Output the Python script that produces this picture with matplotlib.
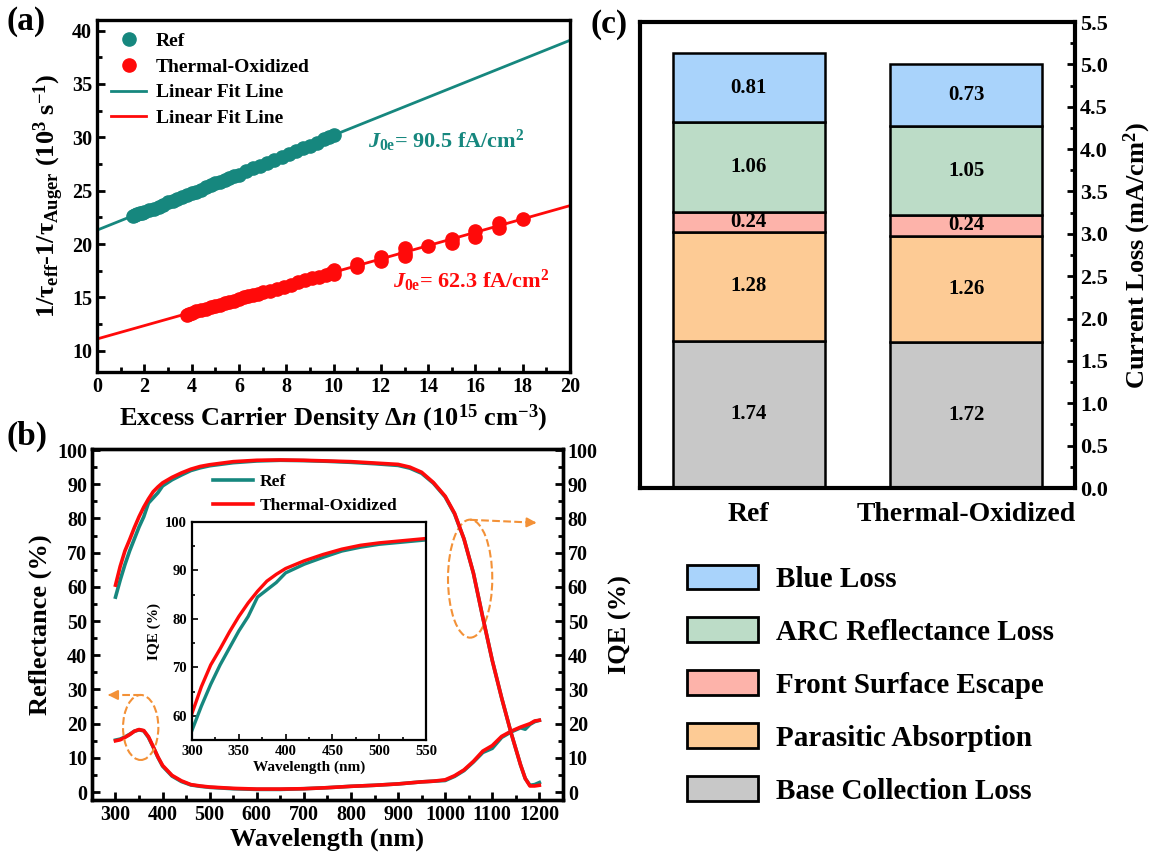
import matplotlib
matplotlib.use('Agg')
import matplotlib.pyplot as plt
from matplotlib.patches import Ellipse, Patch
from matplotlib.ticker import MultipleLocator
import numpy as np

plt.rcParams['font.family'] = ['Liberation Serif', 'DejaVu Serif']
plt.rcParams['font.weight'] = 'bold'
plt.rcParams['axes.labelweight'] = 'bold'
plt.rcParams['mathtext.fontset'] = 'custom'
plt.rcParams['mathtext.rm'] = 'Liberation Serif:bold'
plt.rcParams['mathtext.it'] = 'Liberation Serif:bold:italic'
plt.rcParams['mathtext.bf'] = 'Liberation Serif:bold'
plt.rcParams['mathtext.default'] = 'rm'

TEAL = '#16877E'
RED = '#FF0A0A'
ORANGE = '#F39137'

# ---------------- Panel (a) data ----------------
ref_x = [1.5, 1.6, 1.7, 1.8, 1.9, 2.0, 2.2, 2.4, 2.6, 2.8, 3.0, 3.2, 3.4, 3.6, 3.8,
         4.0, 4.2, 4.4, 4.6, 4.8, 5.0, 5.2, 5.4, 5.6, 5.8, 6.0, 6.3, 6.6, 6.9, 7.2,
         7.5, 7.8, 8.1, 8.4, 8.7, 9.0, 9.3, 9.6, 9.8, 10.0]
ref_y = [22.6, 22.7, 22.8, 22.9, 22.9, 23.0, 23.2, 23.3, 23.5, 23.7, 23.9, 24.0, 24.2,
         24.4, 24.6, 24.8, 24.9, 25.1, 25.3, 25.5, 25.7, 25.8, 26.0, 26.2, 26.4, 26.5,
         26.8, 27.1, 27.3, 27.6, 27.9, 28.2, 28.4, 28.7, 29.0, 29.2, 29.5, 29.8, 30.0, 30.2]
to_x = [3.8, 3.9, 4.0, 4.2, 4.4, 4.6, 4.8, 5.0, 5.2, 5.4, 5.6, 5.8, 6.0, 6.2, 6.4, 6.6,
        6.8, 7.0, 7.3, 7.6, 7.9, 8.2, 8.5, 8.8, 9.1, 9.4, 9.7, 9.9, 10.0, 10.0, 11.0,
        11.0, 12.0, 12.0, 13.0, 13.0, 13.0, 14.0, 15.0, 15.0, 16.0, 16.0, 17.0, 17.0, 18.0]
to_y = [13.3, 13.4, 13.5, 13.7, 13.8, 13.9, 14.1, 14.2, 14.3, 14.5, 14.6, 14.7, 14.8,
        15.0, 15.1, 15.2, 15.3, 15.5, 15.6, 15.8, 16.0, 16.2, 16.4, 16.6, 16.8, 16.9,
        17.1, 17.3, 17.2, 17.6, 17.8, 18.1, 18.4, 18.8, 18.9, 19.2, 19.6, 19.8, 20.1,
        20.5, 20.7, 21.2, 21.5, 22.0, 22.3]
fit_x = [0, 20]
ref_fit_y = [21.3, 39.1]
to_fit_y = [11.1, 23.6]

# ---------------- Panel (b) data ----------------
wl = [300, 310, 320, 330, 340, 350, 360, 370, 380, 390, 400, 420, 440, 460, 480, 500,
      550, 600, 650, 700, 750, 800, 850, 900, 925, 950, 975, 1000, 1020, 1040, 1060,
      1080, 1100, 1120, 1140, 1160, 1170, 1180, 1190, 1200]
iqe_ref = [57.0, 62.0, 66.5, 70.5, 74.0, 77.5, 80.5, 84.5, 86.0, 87.5, 89.5, 91.3, 92.7,
           94.0, 94.8, 95.4, 96.3, 96.8, 97.0, 96.9, 96.7, 96.4, 96.0, 95.5, 94.7, 93.2,
           90.3, 86.3, 81.3, 74.0, 64.0, 51.0, 38.5, 27.5, 17.3, 8.0, 4.0, 2.0, 2.2, 2.8]
iqe_to = [60.5, 66.0, 70.5, 73.8, 77.3, 80.5, 83.3, 85.7, 87.8, 89.2, 90.4, 92.0, 93.3,
          94.4, 95.2, 95.7, 96.6, 97.0, 97.1, 97.0, 96.8, 96.6, 96.2, 95.8, 95.0, 93.5,
          90.5, 86.5, 81.5, 74.0, 64.0, 51.0, 38.5, 27.5, 17.3, 8.0, 4.0, 1.8, 1.8, 2.0]
refl_ref = [15.2, 15.5, 16.1, 16.9, 17.8, 18.2, 17.9, 16.0, 13.2, 10.2, 7.6, 4.7, 3.1,
            2.1, 1.7, 1.4, 1.0, 0.8, 0.8, 1.0, 1.3, 1.7, 2.0, 2.4, 2.7, 3.0, 3.2, 3.4,
            4.6, 6.3, 8.8, 11.6, 12.8, 16.0, 17.6, 18.8, 18.4, 19.8, 20.6, 21.0]
refl_to = [15.0, 15.3, 16.0, 16.8, 17.8, 18.3, 18.0, 16.2, 13.3, 10.3, 7.8, 4.9, 3.3,
           2.2, 1.8, 1.5, 1.1, 0.9, 0.9, 1.0, 1.3, 1.7, 2.0, 2.4, 2.7, 3.0, 3.2, 3.6,
           4.8, 6.5, 9.0, 12.0, 13.6, 16.3, 17.8, 19.0, 19.5, 20.0, 20.8, 21.0]

# ---------------- Panel (c) data ----------------
samples = ['Ref', 'Thermal-Oxidized']
loss_names = ['Base Collection Loss', 'Parasitic Absorption', 'Front Surface Escape',
              'ARC Reflectance Loss', 'Blue Loss']
loss_values = {
    'Base Collection Loss': [1.74, 1.72],
    'Parasitic Absorption': [1.28, 1.26],
    'Front Surface Escape': [0.24, 0.24],
    'ARC Reflectance Loss': [1.06, 1.05],
    'Blue Loss': [0.81, 0.73],
}
loss_colors = {
    'Base Collection Loss': '#C8C8C8',
    'Parasitic Absorption': '#FDCB95',
    'Front Surface Escape': '#FDB3AA',
    'ARC Reflectance Loss': '#BCDCC7',
    'Blue Loss': '#A9D3FB',
}

fig = plt.figure(figsize=(11.58, 8.58), dpi=100)

def style_ax(ax, lw=2.4, labsize=14.5, maj=6, mnr=3.5):
    for s in ax.spines.values():
        s.set_linewidth(lw)
    ax.tick_params(which='both', direction='in', width=2.0, labelsize=labsize)
    ax.tick_params(which='major', length=maj)
    ax.tick_params(which='minor', length=mnr)

# ---------- (a) ----------
axA = fig.add_axes([0.0838, 0.5664, 0.4085, 0.4103])
axA.plot(ref_x, ref_y, 'o', color=TEAL, ms=9.5, label='Ref')
axA.plot(to_x, to_y, 'o', color=RED, ms=9.5, label='Thermal-Oxidized')
axA.plot(fit_x, ref_fit_y, '-', color=TEAL, lw=2.0, label='Linear Fit Line')
axA.plot(fit_x, to_fit_y, '-', color=RED, lw=2.0, label='Linear Fit Line')
axA.set_xlim(0, 20)
axA.set_ylim(8, 41)
axA.xaxis.set_major_locator(MultipleLocator(2))
axA.xaxis.set_minor_locator(MultipleLocator(1))
axA.yaxis.set_major_locator(MultipleLocator(5))
axA.yaxis.set_minor_locator(MultipleLocator(2.5))
style_ax(axA)
axA.set_xlabel(r'Excess Carrier Density Δ$\mathit{n}$ (10$^{15}$ cm$^{-3}$)', fontsize=19, labelpad=4)
axA.set_ylabel(r'1/τ$_{\rm eff}$-1/τ$_{\rm Auger}$ (10$^{3}$ s$^{-1}$)', fontsize=19, labelpad=4)
axA.legend(loc='upper left', bbox_to_anchor=(0.03, 0.965), frameon=False, fontsize=14,
           handlelength=1.8, handletextpad=0.5, labelspacing=0.42, borderpad=0, borderaxespad=0,
           numpoints=1, markerscale=1.0)
axA.text(11.45, 29.0, r'$\mathit{J}_{\rm 0e}$= 90.5 fA/cm$^{2}$', color=TEAL, fontsize=16)
axA.text(12.5, 15.9, r'$\mathit{J}_{\rm 0e}$= 62.3 fA/cm$^{2}$', color=RED, fontsize=16)

# ---------- (b) ----------
axB = fig.add_axes([0.0794, 0.0676, 0.4067, 0.4091])
axB.plot(wl, refl_ref, '-', color=TEAL, lw=2.6, label='Ref')
axB.plot(wl, refl_to, '-', color=RED, lw=2.6, label='Thermal-Oxidized')
axB.set_xlim(250, 1250)
axB.set_ylim(-2.3, 100.3)
axB.xaxis.set_major_locator(MultipleLocator(100))
axB.xaxis.set_minor_locator(MultipleLocator(50))
axB.yaxis.set_major_locator(MultipleLocator(10))
axB.yaxis.set_minor_locator(MultipleLocator(5))
style_ax(axB)
axB.set_xticks([300, 400, 500, 600, 700, 800, 900, 1000, 1100, 1200])
axB.set_xlabel('Wavelength (nm)', fontsize=19, labelpad=2)
axB.set_ylabel('Reflectance (%)', fontsize=19, labelpad=4)
axB2 = axB.twinx()
axB2.plot(wl, iqe_ref, '-', color=TEAL, lw=2.6)
axB2.plot(wl, iqe_to, '-', color=RED, lw=2.6)
axB2.set_ylim(-2.3, 100.3)
axB2.yaxis.set_major_locator(MultipleLocator(10))
axB2.yaxis.set_minor_locator(MultipleLocator(5))
style_ax(axB2)
axB2.set_ylabel('IQE (%)', fontsize=19, labelpad=8)
axB.legend(loc='upper left', bbox_to_anchor=(0.257, 0.93), frameon=False, fontsize=12.5,
           handlelength=2.3, handletextpad=0.4, labelspacing=0.45, borderpad=0, borderaxespad=0)

# annotations: ellipses and arrows (on IQE axis, same scale)
axB2.add_patch(Ellipse((353.5, 18.9), 75, 19, fill=False, ls='--', lw=1.5, ec=ORANGE))
axB2.add_patch(Ellipse((1053, 62.4), 94, 34.5, fill=False, ls='--', lw=1.5, ec=ORANGE))
axB2.plot([354, 292], [28.4, 28.4], '--', color=ORANGE, lw=1.5)
axB2.annotate('', xy=(278, 28.4), xytext=(295, 28.4),
              arrowprops=dict(arrowstyle='-|>', color=ORANGE, lw=1.5, mutation_scale=14))
axB2.plot([1053, 1185], [79.6, 78.8], '--', color=ORANGE, lw=1.5)
axB2.annotate('', xy=(1200, 78.7), xytext=(1182, 78.8),
              arrowprops=dict(arrowstyle='-|>', color=ORANGE, lw=1.5, mutation_scale=14))

# inset
axI = fig.add_axes([0.1658, 0.1375, 0.2021, 0.2541])
axI.plot(wl, iqe_ref, '-', color=TEAL, lw=2.4)
axI.plot(wl, iqe_to, '-', color=RED, lw=2.4)
axI.set_xlim(300, 550)
axI.set_ylim(55, 100)
axI.xaxis.set_major_locator(MultipleLocator(50))
axI.xaxis.set_minor_locator(MultipleLocator(25))
axI.yaxis.set_major_locator(MultipleLocator(10))
axI.yaxis.set_minor_locator(MultipleLocator(5))
style_ax(axI, lw=1.6, labsize=10.5, maj=4, mnr=2)
axI.tick_params(which='both', width=1.2)
axI.set_xlabel('Wavelength (nm)', fontsize=11, labelpad=2)
axI.set_ylabel('IQE (%)', fontsize=11, labelpad=3)

# ---------- (c) ----------
axC = fig.add_axes([0.5527, 0.4312, 0.3756, 0.5431])
xpos = np.arange(len(samples))
bottom = np.zeros(len(samples))
for name in loss_names:
    vals = np.array(loss_values[name])
    axC.bar(xpos, vals, width=0.7, bottom=bottom, color=loss_colors[name],
            edgecolor='black', linewidth=1.8)
    for xi, v, b in zip(xpos, vals, bottom):
        axC.text(xi, b + v / 2, f'{v:.2f}', ha='center', va='center', fontsize=15)
    bottom = bottom + vals
axC.set_xlim(-0.5, 1.5)
axC.set_ylim(0, 5.5)
axC.yaxis.tick_right()
axC.yaxis.set_label_position('right')
axC.yaxis.set_major_locator(MultipleLocator(0.5))
axC.yaxis.set_minor_locator(MultipleLocator(0.25))
axC.yaxis.set_major_formatter(matplotlib.ticker.FormatStrFormatter('%.1f'))
style_ax(axC, lw=3.0, labsize=16)
axC.tick_params(axis='x', length=0, labelsize=20, pad=10)
axC.set_xticks(xpos)
axC.set_xticklabels(samples)
axC.set_ylabel('Current Loss (mA/cm$^{2}$)', fontsize=19, labelpad=10)

handles = [Patch(facecolor=loss_colors[n], edgecolor='black', linewidth=2.0, label=n)
           for n in loss_names[::-1]]
fig.legend(handles=handles, loc='upper left', bbox_to_anchor=(0.593, 0.342),
           frameon=False, fontsize=21, handlelength=2.45, handleheight=0.93,
           handletextpad=0.6, labelspacing=0.84, borderpad=0, borderaxespad=0)

# panel labels
fig.text(0.006, 0.975, '(a)', fontsize=24, va='center', ha='left')
fig.text(0.006, 0.491, '(b)', fontsize=24, va='center', ha='left')
fig.text(0.510, 0.972, '(c)', fontsize=24, va='center', ha='left')

fig.savefig('out.png', dpi=100)
